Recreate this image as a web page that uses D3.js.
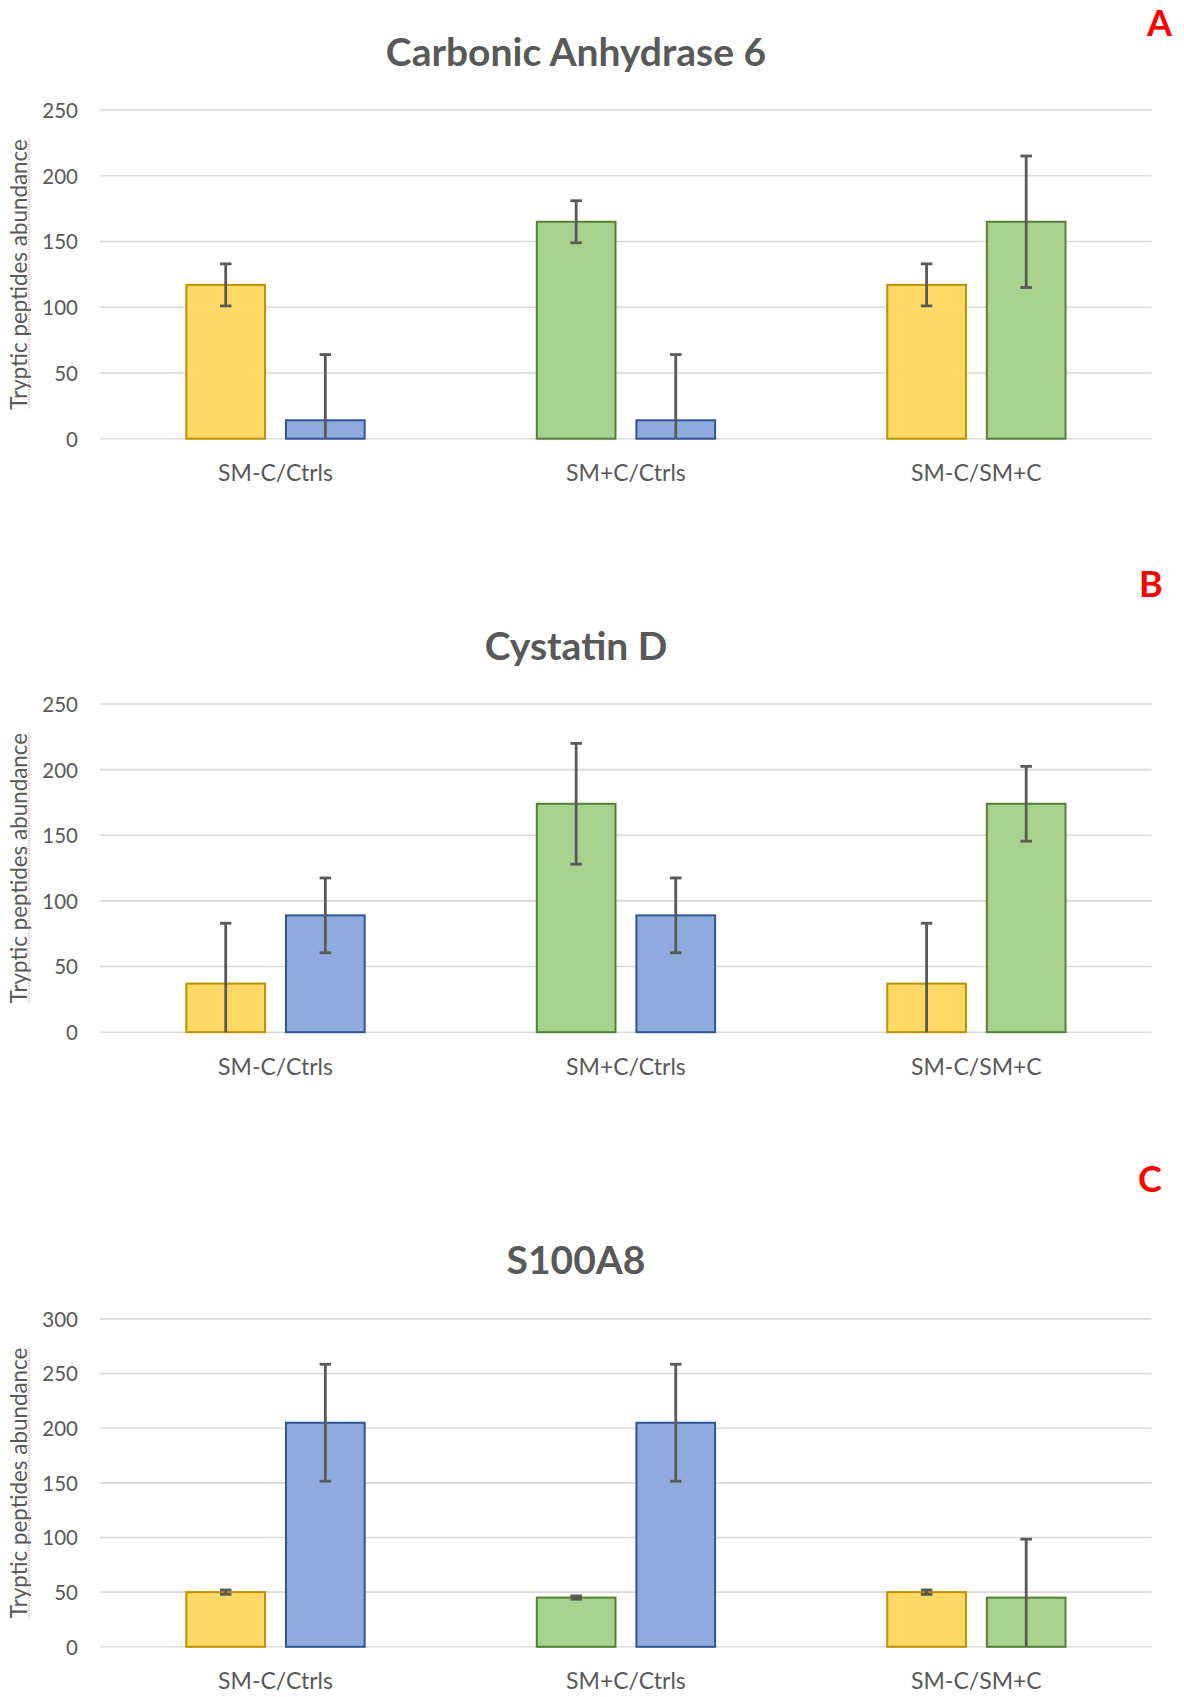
<!DOCTYPE html>
<html>
<head>
<meta charset="utf-8">
<script src="https://cdn.jsdelivr.net/npm/d3@7"></script>
<style>
  html, body { margin: 0; padding: 0; background: #fff; }
  svg { display: block; font-family: Lato, "Open Sans", sans-serif; }
</style>
</head>
<body>
<svg id="fig" width="1184" height="1697"></svg>
<script>
// ---- data ----
const categories = ["SM-C/Ctrls", "SM+C/Ctrls", "SM-C/SM+C"];
const groupSeries = [["SM-C", "Ctrls"], ["SM+C", "Ctrls"], ["SM-C", "SM+C"]];
const panelTitles = ["Carbonic Anhydrase 6", "Cystatin D", "S100A8"];
const panelLetters = ["A", "B", "C"];
const yAxisTitle = "Tryptic peptides abundance";

const ticksCA = [0, 50, 100, 150, 200, 250];
const ticksCys = [0, 50, 100, 150, 200, 250];
const ticksS100 = [0, 50, 100, 150, 200, 250, 300];

// means per group: [first bar, second bar]
const valuesCA = [[117, 14], [165, 14], [117, 165]];
const errorsCA = [[16, 50], [16, 50], [16, 50]];
const valuesCys = [[37, 89], [174, 89], [37, 174]];
const errorsCys = [[46, 28.5], [46, 28.5], [46, 28.5]];
const valuesS100 = [[50, 205], [45, 205], [50, 45]];
const errorsS100 = [[2, 53.5], [1.5, 53.5], [2, 53.5]];

// ---- styling ----
const seriesFill = { "SM-C": "#FFD966", "Ctrls": "#8FAADC", "SM+C": "#A9D18E" };
const seriesStroke = { "SM-C": "#BF9000", "Ctrls": "#2F5597", "SM+C": "#538135" };
const textColor = "#595959";
const gridColor = "#D9D9D9";

// panel layout (plot top / zero line in page pixels)
const panels = [
  { values: valuesCA, errors: errorsCA, ticks: ticksCA, top: 110, bottom: 438.7, titleY: 66, letterY: 36, letterX: 1147 },
  { values: valuesCys, errors: errorsCys, ticks: ticksCys, top: 704, bottom: 1032.2, titleY: 660, letterY: 597, letterX: 1139 },
  { values: valuesS100, errors: errorsS100, ticks: ticksS100, top: 1318.9, bottom: 1646.8, titleY: 1274, letterY: 1192, letterX: 1138 }
];

const svg = d3.select("#fig");
const plotLeft = 100.3, plotRight = 1151.6;
const titleX = 576;

const x0 = d3.scaleBand().domain(categories).range([plotLeft, plotRight]).paddingInner(0).paddingOuter(0);
const groupWidth = 178.3;
const x1 = d3.scaleBand().domain([0, 1]).range([-groupWidth / 2, groupWidth / 2]).paddingInner(0.21);

panels.forEach((p, pi) => {
  const g = svg.append("g");
  const yMax = d3.max(p.ticks);
  const y = d3.scaleLinear().domain([0, yMax]).range([p.bottom, p.top]);

  // gridlines
  g.append("g").selectAll("line").data(p.ticks).join("line")
    .attr("x1", plotLeft).attr("x2", plotRight)
    .attr("y1", d => y(d)).attr("y2", d => y(d))
    .attr("stroke", gridColor).attr("stroke-width", 1.6);

  // y tick labels
  const yAxis = d3.axisLeft(y).tickValues(p.ticks).tickSize(0).tickPadding(0);
  const ya = g.append("g").attr("transform", "translate(78,0)").call(yAxis);
  ya.select(".domain").remove();
  ya.selectAll("text").attr("fill", textColor).attr("font-size", 20.5)
    .attr("font-family", "Lato, sans-serif").attr("dy", "0.36em");

  // y axis title with spell-check style underline
  const midY = (p.top + p.bottom) / 2;
  const yt = g.append("text")
    .attr("transform", `translate(27,${midY}) rotate(-90)`)
    .attr("text-anchor", "middle")
    .attr("fill", textColor).attr("font-size", 22.4)
    .text(yAxisTitle);
  const len = yt.node().getComputedTextLength();
  g.append("line")
    .attr("x1", 29).attr("x2", 29)
    .attr("y1", midY - len / 2).attr("y2", midY + len / 2)
    .attr("stroke", "#E06666").attr("stroke-width", 1)
    .attr("stroke-dasharray", "1,1.5");

  // x category labels
  const xa = g.append("g").attr("transform", `translate(0,${p.bottom})`)
    .call(d3.axisBottom(x0).tickSize(0).tickPadding(0));
  xa.select(".domain").remove();
  xa.selectAll("text").attr("fill", textColor).attr("font-size", 23)
    .attr("font-family", "Lato, sans-serif").attr("dy", "1.84em");

  // bars
  const bars = [];
  categories.forEach((c, ci) => {
    p.values[ci].forEach((v, bi) => {
      bars.push({ cat: c, idx: bi, series: groupSeries[ci][bi], value: v, err: p.errors[ci][bi] });
    });
  });

  g.append("g").selectAll("rect").data(bars).join("rect")
    .attr("x", d => x0(d.cat) + x0.bandwidth() / 2 + x1(d.idx))
    .attr("width", x1.bandwidth())
    .attr("y", d => y(d.value))
    .attr("height", d => y(0) - y(d.value))
    .attr("fill", d => seriesFill[d.series])
    .attr("stroke", d => seriesStroke[d.series])
    .attr("stroke-width", 2);

  // error bars
  const eg = g.append("g").attr("stroke", "#595959").attr("stroke-width", 2.8);
  const capW = 11.5;
  bars.forEach(d => {
    const cx = x0(d.cat) + x0.bandwidth() / 2 + x1(d.idx) + x1.bandwidth() / 2;
    const hi = d.value + d.err;
    const lo = Math.max(0, d.value - d.err);
    eg.append("line").attr("x1", cx).attr("x2", cx).attr("y1", y(hi)).attr("y2", y(lo));
    eg.append("line").attr("x1", cx - capW / 2).attr("x2", cx + capW / 2).attr("y1", y(hi)).attr("y2", y(hi));
    if (d.value - d.err >= 0) {
      eg.append("line").attr("x1", cx - capW / 2).attr("x2", cx + capW / 2).attr("y1", y(lo)).attr("y2", y(lo));
    }
  });

  // title
  g.append("text")
    .attr("x", titleX).attr("y", p.titleY)
    .attr("text-anchor", "middle")
    .attr("fill", textColor).attr("font-size", 39).attr("font-weight", 700)
    .text(panelTitles[pi]);

  // panel letter
  g.append("text")
    .attr("x", p.letterX).attr("y", p.letterY)
    .attr("fill", "#FF0000").attr("font-size", 36).attr("font-weight", 700)
    .text(panelLetters[pi]);
});
</script>
</body>
</html>
